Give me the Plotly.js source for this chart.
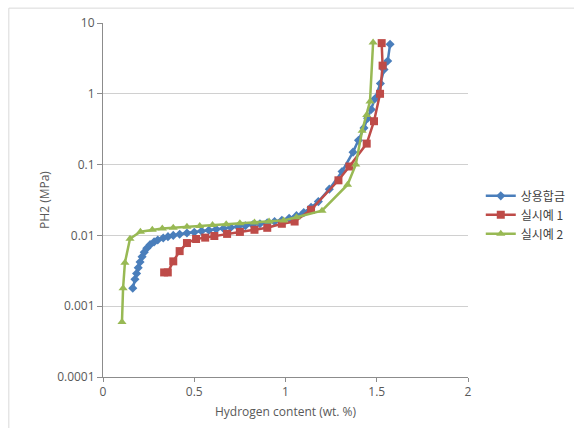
<!DOCTYPE html>
<html>
<head>
<meta charset="utf-8">
<script src="https://cdn.plot.ly/plotly-3.0.1.min.js"></script>
<style>html,body{margin:0;padding:0;background:#fff;}#chart{width:574px;height:428px;}</style>
</head>
<body>
<div id="chart"></div>
<script>
const seriesNames = ['상용합금', '실시예 1', '실시예 2'];

const blueX = [0.163,0.175,0.184,0.193,0.203,0.214,0.226,0.24,0.258,0.28,0.30,0.33,0.356,0.385,0.42,0.46,0.50,0.54,0.58,0.62,0.66,0.70,0.74,0.78,0.82,0.86,0.90,0.94,0.98,1.02,1.06,1.10,1.14,1.18,1.24,1.31,1.37,1.40,1.43,1.45,1.47,1.49,1.52,1.54,1.56,1.573];
const blueY = [0.0018,0.0024,0.0029,0.0035,0.0042,0.0050,0.0058,0.0066,0.0074,0.0081,0.0086,0.0092,0.0096,0.0100,0.0104,0.0108,0.0111,0.0115,0.0118,0.0122,0.0125,0.0129,0.0133,0.0137,0.0141,0.0146,0.0151,0.0157,0.0164,0.0175,0.019,0.021,0.025,0.030,0.045,0.080,0.15,0.22,0.33,0.45,0.60,0.85,1.4,2.2,2.9,5.0];

const redX = [0.335,0.355,0.385,0.42,0.46,0.51,0.56,0.61,0.68,0.75,0.83,0.90,0.98,1.05,1.14,1.29,1.35,1.445,1.485,1.518,1.532,1.527];
const redY = [0.0030,0.0030,0.0043,0.0060,0.0078,0.0089,0.0093,0.0098,0.0105,0.0112,0.0120,0.0128,0.0146,0.0157,0.023,0.060,0.094,0.198,0.41,1.0,2.5,5.2];

const greenX = [0.104,0.11,0.12,0.148,0.205,0.27,0.325,0.385,0.46,0.53,0.60,0.675,0.75,0.83,0.91,0.99,1.06,1.2,1.34,1.385,1.42,1.445,1.463,1.48];
const greenY = [0.0006,0.0018,0.0041,0.0090,0.0113,0.0120,0.0125,0.0128,0.0132,0.0136,0.0140,0.0144,0.0148,0.0152,0.0157,0.0163,0.0180,0.0223,0.052,0.10,0.30,0.50,0.78,5.3];

const yTickVals = [0.0001, 0.001, 0.01, 0.1, 1, 10];
const yTickText = ['0.0001', '0.001', '0.01', '0.1', '1', '10'];
const xTickVals = [0, 0.5, 1, 1.5, 2];
const xTickText = ['0', '0.5', '1', '1.5', '2'];

const colors = ['#4A7EBB', '#BE4B48', '#98B954'];

const traces = [
  {x: blueX, y: blueY, name: seriesNames[0], mode: 'lines+markers', type: 'scatter',
   line: {color: colors[0], width: 2.5}, marker: {symbol: 'diamond', size: 7, color: colors[0]}},
  {x: redX, y: redY, name: seriesNames[1], mode: 'lines+markers', type: 'scatter',
   line: {color: colors[1], width: 2.5}, marker: {symbol: 'square', size: 8, color: colors[1]}},
  {x: greenX, y: greenY, name: seriesNames[2], mode: 'lines+markers', type: 'scatter',
   line: {color: colors[2], width: 2.5}, marker: {symbol: 'triangle-up', size: 8, color: colors[2]}}
];

const layout = {
  width: 574, height: 428,
  margin: {l: 103, r: 106, t: 23, b: 51, pad: 0, autoexpand: false},
  paper_bgcolor: '#fff', plot_bgcolor: '#fff',
  font: {family: 'Open Sans, "Noto Sans CJK KR", sans-serif', size: 12, color: '#595959'},
  showlegend: true,
  legend: {x: 1.035, y: 0.458, xanchor: 'left', yanchor: 'middle',
           font: {family: '"Noto Sans CJK KR", sans-serif', size: 12, color: '#404040'},
           tracegroupgap: 0, itemwidth: 30, bgcolor: 'rgba(0,0,0,0)'},
  xaxis: {range: [0, 2], tickvals: xTickVals, ticktext: xTickText, showgrid: false, zeroline: false,
          showline: true, linecolor: '#8c8c8c', linewidth: 1, ticks: 'outside', ticklen: 4, tickcolor: '#8c8c8c',
          tickfont: {size: 12, color: '#595959'},
          title: {text: 'Hydrogen content (wt. %)', font: {size: 12, color: '#595959'}, standoff: 8}},
  yaxis: {type: 'log', range: [-4, 1], tickvals: yTickVals, ticktext: yTickText, showgrid: true,
          gridcolor: '#d0d0d0', gridwidth: 1, zeroline: false,
          showline: true, linecolor: '#8c8c8c', linewidth: 1, ticks: 'outside', ticklen: 5, tickcolor: '#8c8c8c',
          tickfont: {size: 12, color: '#595959'},
          title: {text: 'PH2 (MPa)', font: {size: 12, color: '#595959'}, standoff: 4}},
  shapes: [
    {type: 'line', xref: 'paper', yref: 'paper', x0: -0.258, x1: -0.258, y0: -0.2, y1: 1.042,
     line: {color: '#d9d9d9', width: 1}},
    {type: 'line', xref: 'paper', yref: 'paper', x0: -0.258, x1: 1.3, y0: 1.042, y1: 1.042,
     line: {color: '#d9d9d9', width: 1}}
  ]
};

Plotly.newPlot('chart', traces, layout, {displayModeBar: false, staticPlot: true});
</script>
</body>
</html>
